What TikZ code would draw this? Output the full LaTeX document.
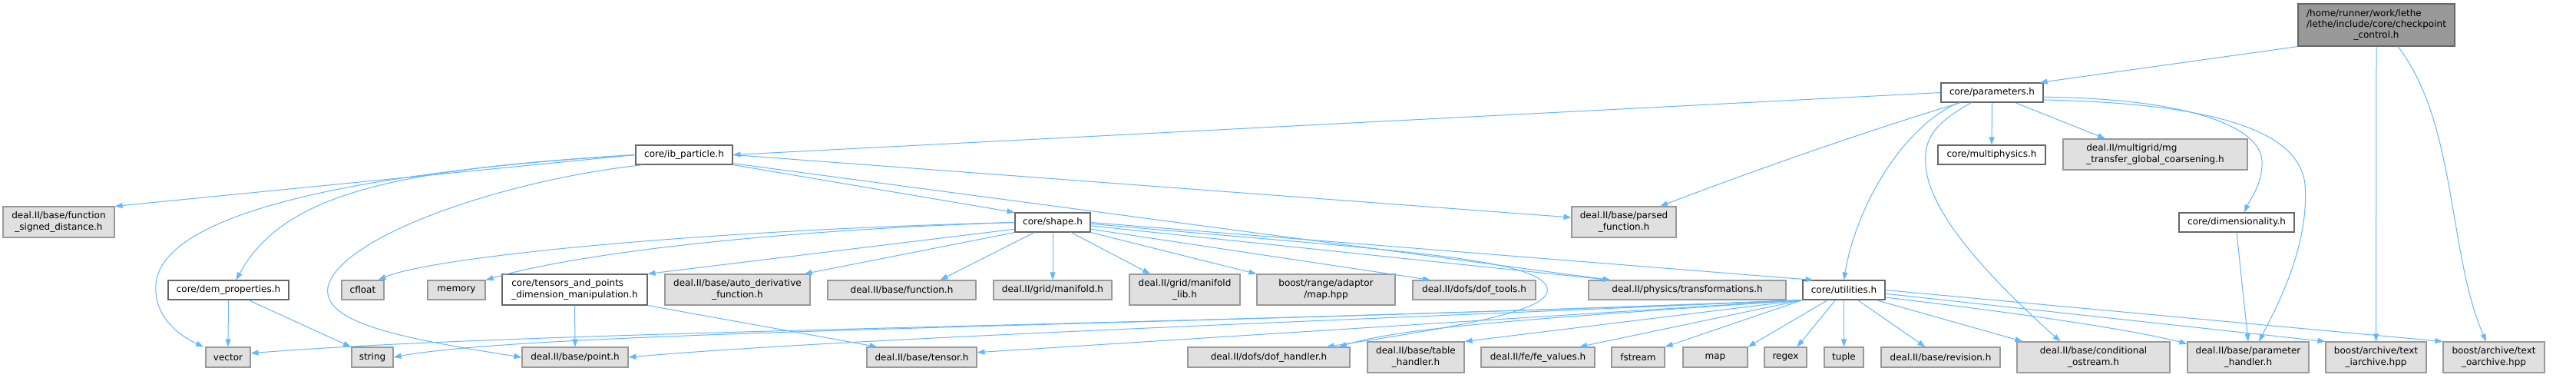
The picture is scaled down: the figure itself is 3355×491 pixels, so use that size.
\documentclass[tikz,border=0pt]{standalone}
\usepackage{fontspec}
\setmainfont{DejaVu Sans}
\usetikzlibrary{arrows.meta}
\definecolor{edgeblue}{HTML}{63B8FF}
\definecolor{intborder}{HTML}{666666}
\definecolor{extborder}{HTML}{999999}
\definecolor{extfill}{HTML}{E0E0E0}
\definecolor{rootfill}{HTML}{999999}
\newcommand{\twol}[2]{\begin{tabular}{@{}l@{}}#1\\\multicolumn{1}{@{}c@{}}{#2}\end{tabular}}
\newcommand{\threel}[3]{\begin{tabular}{@{}l@{}}#1\\#2\\\multicolumn{1}{@{}c@{}}{#3}\end{tabular}}
\begin{document}
\begin{tikzpicture}[x=1pt,y=-1pt,
  every node/.style={font=\fontsize{12}{14.3}\selectfont, inner sep=0pt, line width=1.1pt, rectangle},
  intnode/.style={draw=intborder, fill=white},
  extnode/.style={draw=extborder, fill=extfill},
  rootnode/.style={draw=intborder, fill=rootfill},
  dep/.style={draw=edgeblue, line width=1pt, -{Triangle[length=10pt,width=7pt]}},
]
\useasboundingbox[fill=white] (0,0) rectangle (3355,491);

% nodes
\node[rootnode, minimum width=204pt, minimum height=55pt] (R) at (3095,32.5) {\threel{/home/runner/work/lethe}{/lethe/include/core/checkpoint}{\_control.h}};
\node[intnode, minimum width=133pt, minimum height=25pt] (P) at (2594.5,120.5) {core/parameters.h};
\node[intnode, minimum width=140pt, minimum height=25pt] (MP) at (2594,201.5) {core/multiphysics.h};
\node[extnode, minimum width=240pt, minimum height=40pt] (MG) at (2807,201) {\twol{deal.II/multigrid/mg}{\_transfer\_global\_coarsening.h}};
\node[intnode, minimum width=126pt, minimum height=25pt] (IB) at (891,201.5) {core/ib\_particle.h};
\node[extnode, minimum width=145pt, minimum height=40pt] (FSD) at (76.5,289) {\twol{deal.II/base/function}{\_signed\_distance.h}};
\node[intnode, minimum width=157pt, minimum height=25pt] (Dm) at (297.5,377.5) {core/dem\_properties.h};
\node[extnode, minimum width=58pt, minimum height=26pt] (V) at (297,465) {vector};
\node[extnode, minimum width=54pt, minimum height=26pt] (St) at (485,465) {string};
\node[extnode, minimum width=55pt, minimum height=25pt] (Cf) at (472.5,377.5) {cfloat};
\node[extnode, minimum width=75pt, minimum height=25pt] (Mm) at (594.5,377.5) {memory};
\node[intnode, minimum width=189pt, minimum height=40pt] (T) at (748.5,377) {\twol{core/tensors\_and\_points}{\_dimension\_manipulation.h}};
\node[extnode, minimum width=138pt, minimum height=26pt] (Pt) at (749,465) {deal.II/base/point.h};
\node[extnode, minimum width=189pt, minimum height=40pt] (AD) at (960.5,377) {\twol{deal.II/base/auto\_derivative}{\_function.h}};
\node[extnode, minimum width=193pt, minimum height=25pt] (Fn) at (1174.5,377.5) {deal.II/base/function.h};
\node[extnode, minimum width=154pt, minimum height=25pt] (Mf) at (1371,377.5) {deal.II/grid/manifold.h};
\node[extnode, minimum width=144pt, minimum height=40pt] (ML) at (1543,377) {\twol{deal.II/grid/manifold}{\_lib.h}};
\node[intnode, minimum width=98pt, minimum height=25pt] (S) at (1371,289.5) {core/shape.h};
\node[extnode, minimum width=180pt, minimum height=40pt] (MH) at (1727,377) {\twol{boost/range/adaptor}{/map.hpp}};
\node[extnode, minimum width=160pt, minimum height=25pt] (DT) at (1920,377.5) {deal.II/dofs/dof\_tools.h};
\node[extnode, minimum width=136pt, minimum height=40pt] (Pf) at (2115,289) {\twol{deal.II/base/parsed}{\_function.h}};
\node[extnode, minimum width=257pt, minimum height=25pt] (Ph) at (2197.5,377.5) {deal.II/physics/transformations.h};
\node[intnode, minimum width=107pt, minimum height=25pt] (U) at (2401.5,377.5) {core/utilities.h};
\node[extnode, minimum width=143pt, minimum height=26pt] (Tn) at (1200.5,465) {deal.II/base/tensor.h};
\node[extnode, minimum width=211pt, minimum height=26pt] (DH) at (1652.5,465) {deal.II/dofs/dof\_handler.h};
\node[extnode, minimum width=126pt, minimum height=40pt] (TH) at (1844,465) {\twol{deal.II/base/table}{\_handler.h}};
\node[extnode, minimum width=148pt, minimum height=26pt] (FE) at (2003,465) {deal.II/fe/fe\_values.h};
\node[extnode, minimum width=69pt, minimum height=26pt] (Fs) at (2133.5,465) {fstream};
\node[extnode, minimum width=84pt, minimum height=26pt] (Mp) at (2234,465) {map};
\node[extnode, minimum width=55pt, minimum height=26pt] (Rg) at (2325.5,465) {regex};
\node[extnode, minimum width=51pt, minimum height=26pt] (Tp) at (2401.5,465) {tuple};
\node[extnode, minimum width=155pt, minimum height=26pt] (Rv) at (2527.5,465) {deal.II/base/revision.h};
\node[extnode, minimum width=199pt, minimum height=40pt] (CO) at (2726.5,465) {\twol{deal.II/base/conditional}{\_ostream.h}};
\node[intnode, minimum width=150pt, minimum height=25pt] (Dim) at (2913,289.5) {core/dimensionality.h};
\node[extnode, minimum width=158pt, minimum height=40pt] (PH) at (2928,465) {\twol{deal.II/base/parameter}{\_handler.h}};
\node[extnode, minimum width=131pt, minimum height=40pt] (Ti) at (3094.5,465) {\twol{boost/archive/text}{\_iarchive.hpp}};
\node[extnode, minimum width=132pt, minimum height=40pt] (To) at (3248,465) {\twol{boost/archive/text}{\_oarchive.hpp}};

% root edges
\draw[dep] (R.south west) -- ([xshift=-5pt]P.north east);
\draw[dep] (R.south) -- (Ti.north);
\draw[dep] ([xshift=28pt]R.south) .. controls (3200,160) and (3188,330) .. ([xshift=-10pt]To.north);

% parameters edges
\draw[dep] (P.west) -- (IB.east);
\draw[dep] (P.south) -- (MP.north);
\draw[dep] ([xshift=30pt]P.south) -- ([xshift=-65pt]MG.north);
\draw[dep] ([xshift=-41pt]P.south) .. controls (2400,180) and (2250,235) .. ([xshift=47pt]Pf.north);
\draw[dep] ([xshift=-44pt]P.south) .. controls (2470,170) and (2415,280) .. (U.north);
\draw[dep] ([xshift=-27pt]P.south) .. controls (2520,160) and (2505,180) .. (2508,215) .. controls (2512,280) and (2600,370) .. ([xshift=-43pt]CO.north);
\draw[dep] (P.-5) .. controls (2850,128) and (2945,165) .. (2946,210) .. controls (2947,240) and (2930,260) .. ([xshift=10pt]Dim.north);
\draw[dep] (P.-8) .. controls (2900,135) and (2995,175) .. (3002,240) .. controls (3008,320) and (2965,400) .. ([xshift=14pt]PH.north);

% ib_particle edges
\draw[dep] (IB.west) -- (FSD.north east);
\draw[dep] (IB.west) .. controls (450,225) and (210,280) .. (203,370) .. controls (200,410) and (230,435) .. ([xshift=-32pt]V.north);
\draw[dep] (IB.west) .. controls (520,220) and (370,250) .. ([xshift=10pt]Dm.north);
\draw[dep] ([xshift=10pt]IB.south west) .. controls (650,235) and (440,310) .. (427,374) .. controls (420,420) and (520,440) .. (Pt.west);
\draw[dep] (IB.south east) -- (S.north west);
\draw[dep] (IB.east) -- (Pf.175);
\draw[dep] (IB.-10) -- ([xshift=-100pt]Ph.north);

% dem_properties edges
\draw[dep] (Dm.south) -- (V.north);
\draw[dep] ([xshift=26pt]Dm.south) -- ([xshift=-28pt]St.north);

% shape edges
\draw[dep] (S.west) .. controls (900,300) and (560,335) .. ([xshift=-8pt]Cf.north east);
\draw[dep] (S.west) .. controls (1000,300) and (750,330) .. (Mm.north east);
\draw[dep] (S.190) -- (T.north east);
\draw[dep] (S.south west) -- ([xshift=-8pt]AD.north east);
\draw[dep] ([xshift=-24pt]S.south) -- ([xshift=50pt]Fn.north);
\draw[dep] (S.south) -- (Mf.north);
\draw[dep] ([xshift=24pt]S.south) -- ([xshift=-45pt]ML.north);
\draw[dep] (S.south east) -- (MH.north west);
\draw[dep] (S.-10) -- ([xshift=-57pt]DT.north);
\draw[dep] (S.-5) -- ([xshift=-100pt]Ph.north);
\draw[dep] (S.east) -- ([xshift=-40pt]U.north);
\draw[dep] (S.-2) .. controls (1800,325) and (2005,335) .. (2015,375) .. controls (2022,405) and (1900,425) .. ([xshift=75pt]DH.north);

% utilities edges
\draw[dep] (U.south west) .. controls (1500,425) and (700,430) .. (V.10);
\draw[dep] (U.south west) .. controls (1500,425) and (700,430) .. (St.east);
\draw[dep] (U.south west) .. controls (1800,415) and (1100,440) .. (Pt.east);
\draw[dep] (U.south west) -- (Tn.5);
\draw[dep] (U.south west) .. controls (2000,415) and (1830,425) .. ([xshift=-15pt]DH.north east);
\draw[dep] (U.south west) -- (TH.north east);
\draw[dep] (U.south west) -- ([xshift=54pt]FE.north);
\draw[dep] (U.south west) -- (Fs.north east);
\draw[dep] ([xshift=-21pt]U.south) -- (Mp.north east);
\draw[dep] ([xshift=-11pt]U.south) -- ([xshift=15pt]Rg.north);
\draw[dep] (U.south) -- (Tp.north);
\draw[dep] ([xshift=18pt]U.south) -- ([xshift=-20pt]Rv.north);
\draw[dep] ([xshift=42pt]U.south) -- ([xshift=8pt]CO.north west);
\draw[dep] (U.-10) .. controls (2650,410) and (2780,430) .. ([yshift=-3pt]PH.north west);
\draw[dep] (U.-5) -- (Ti.north west);
\draw[dep] (U.east) -- (To.north west);

% tensors edges
\draw[dep] (T.south) -- (Pt.north);
\draw[dep] (T.south east) -- ([xshift=14pt]Tn.north west);

% dimensionality edge
\draw[dep] (Dim.south) -- (PH.north);
\end{tikzpicture}
\end{document}
